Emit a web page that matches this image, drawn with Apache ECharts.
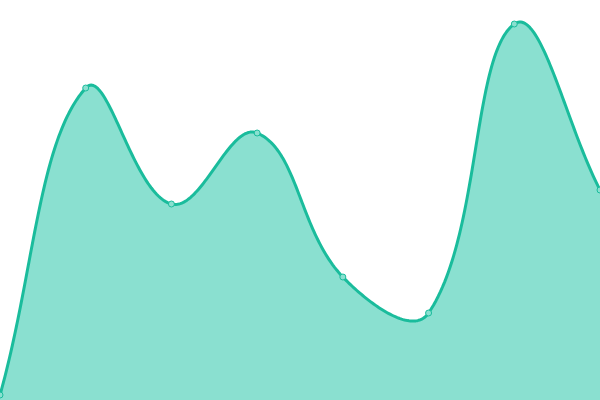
<!DOCTYPE html>
<html><head><meta charset="utf-8">
<script src="https://cdn.jsdelivr.net/npm/echarts@6/dist/echarts.min.js"></script>
<style>html,body{margin:0;padding:0;background:#fff}#c{width:600px;height:400px}</style>
</head><body><div id="c"></div>
<script>
const categories = ['1','2','3','4','5','6','7','8'];
const values = [5, 312, 196, 267, 123, 87, 376, 210];
const tension = 0.4;
const chart = echarts.init(document.getElementById('c'));

function renderCurve(params, api) {
  if (params.dataIndex !== 0) return null;
  const cs = params.coordSys;
  const pts = values.map((v, i) => api.coord([i, v]));
  const clampX = x => Math.max(cs.x, Math.min(cs.x + cs.width, x));
  const clampY = y => Math.max(cs.y, Math.min(cs.y + cs.height, y));
  const cps = pts.map((p, i) => {
    const prev = pts[i - 1] || p, next = pts[i + 1] || p;
    const d01 = Math.hypot(p[0] - prev[0], p[1] - prev[1]);
    const d12 = Math.hypot(next[0] - p[0], next[1] - p[1]);
    let s01 = d01 / (d01 + d12), s12 = d12 / (d01 + d12);
    if (isNaN(s01)) s01 = 0; if (isNaN(s12)) s12 = 0;
    const fa = tension * s01, fb = tension * s12;
    const vx = next[0] - prev[0], vy = next[1] - prev[1];
    return {
      prev: [clampX(p[0] - fa * vx), clampY(p[1] - fa * vy)],
      next: [clampX(p[0] + fb * vx), clampY(p[1] + fb * vy)]
    };
  });
  const line = [pts[0]];
  const N = 60;
  for (let i = 0; i < pts.length - 1; i++) {
    const p0 = pts[i], c1 = cps[i].next, c2 = cps[i + 1].prev, p1 = pts[i + 1];
    for (let k = 1; k <= N; k++) {
      const t = k / N, u = 1 - t;
      const a = u * u * u, b = 3 * u * u * t, c = 3 * u * t * t, d = t * t * t;
      line.push([a * p0[0] + b * c1[0] + c * c2[0] + d * p1[0],
                 a * p0[1] + b * c1[1] + c * c2[1] + d * p1[1]]);
    }
  }
  const base = api.coord([0, 0])[1];
  const area = line.concat([[pts[pts.length - 1][0], base], [pts[0][0], base]]);
  return {
    type: 'group',
    children: [
      {type: 'polygon', shape: {points: area}, style: {fill: '#8ae0d0', stroke: null}},
      {type: 'polyline', shape: {points: line}, style: {stroke: '#1abc9c', lineWidth: 3, fill: null, lineJoin: 'round', lineCap: 'round'}}
    ]
  };
}

chart.setOption({
  animation: false,
  grid: {left: 0, right: 0, top: 0, bottom: 0},
  xAxis: {type: 'category', data: categories, boundaryGap: false, show: false},
  yAxis: {type: 'value', min: 0, max: 400, show: false},
  series: [
    {type: 'custom', data: values, renderItem: renderCurve, z: 1},
    {
      type: 'line',
      data: values,
      z: 3,
      symbol: 'circle',
      symbolSize: 6,
      lineStyle: {opacity: 0},
      itemStyle: {color: '#8ae0d0', borderColor: '#1abc9c', borderWidth: 1}
    }
  ]
});
</script></body></html>
